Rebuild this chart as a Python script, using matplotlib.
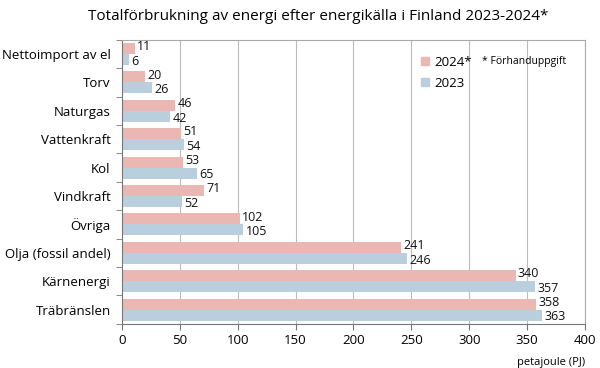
import numpy as np
import matplotlib.pyplot as plt
from matplotlib.patches import Patch

plt.rcParams['font.family'] = ['Open Sans', 'DejaVu Sans']

# data, top to bottom as in the picture
categories = ['Nettoimport av el', 'Torv', 'Naturgas', 'Vattenkraft', 'Kol',
              'Vindkraft', 'Övriga', 'Olja (fossil andel)', 'Kärnenergi', 'Träbränslen']
val_2024 = [11, 20, 46, 51, 53, 71, 102, 241, 340, 358]
val_2023 = [6, 26, 42, 54, 65, 52, 105, 246, 357, 363]

col_2024 = '#ebb7b3'
col_2023 = '#b9cfdd'

fig = plt.figure(figsize=(6, 3.68), dpi=100)
ax = fig.add_axes([0.203, 0.12, 0.772, 0.772])

y = np.arange(len(categories))
h = 0.39
ax.barh(y - h / 2, val_2024, height=h, color=col_2024, zorder=2)
ax.barh(y + h / 2, val_2023, height=h, color=col_2023, zorder=2)

for yi, v in zip(y, val_2024):
    ax.text(v + 2, yi - h / 2 - 0.06, str(v), va='center', ha='left', fontsize=9, color='#111111')
for yi, v in zip(y, val_2023):
    ax.text(v + 2, yi + h / 2 + 0.06, str(v), va='center', ha='left', fontsize=9, color='#111111')

ax.set_ylim(len(categories) - 0.5, -0.5)
ax.set_xlim(0, 400)
ax.set_xticks(np.arange(0, 401, 50))
ax.set_yticks(y)
ax.set_yticklabels(categories, fontsize=9.5)
ax.tick_params(axis='y', length=0, pad=8)
ax.set_yticks(np.arange(-0.5, len(categories), 1), minor=True)
ax.tick_params(axis='y', which='minor', length=4, color='#777777')
ax.tick_params(axis='x', labelsize=9.5, color='#777777', length=4)

ax.grid(axis='x', color='#bbbbbb', linewidth=0.8, zorder=0)
for s in ['top', 'right']:
    ax.spines[s].set_color('#aaaaaa')
for s in ['left', 'bottom']:
    ax.spines[s].set_color('#777777')

ax.text(1.0, -0.135, 'petajoule (PJ)', transform=ax.transAxes, ha='right', va='center', fontsize=8)

handles = [Patch(color=col_2024, label='2024*'), Patch(color=col_2023, label='2023')]
ax.legend(handles=handles, loc='upper left', bbox_to_anchor=(0.62, 0.985), frameon=False,
          handlelength=0.6, handleheight=0.6, handletextpad=0.4, labelspacing=0.6,
          prop={'size': 9.5, 'weight': 'medium'})
ax.text(0.778, 0.922, '* Förhanduppgift', transform=ax.transAxes, fontsize=7.5, va='center')

fig.suptitle('Totalförbrukning av energi efter energikälla i Finland 2023-2024*',
             x=0.53, y=0.975, fontsize=11)

fig.savefig('out.png', dpi=100)
